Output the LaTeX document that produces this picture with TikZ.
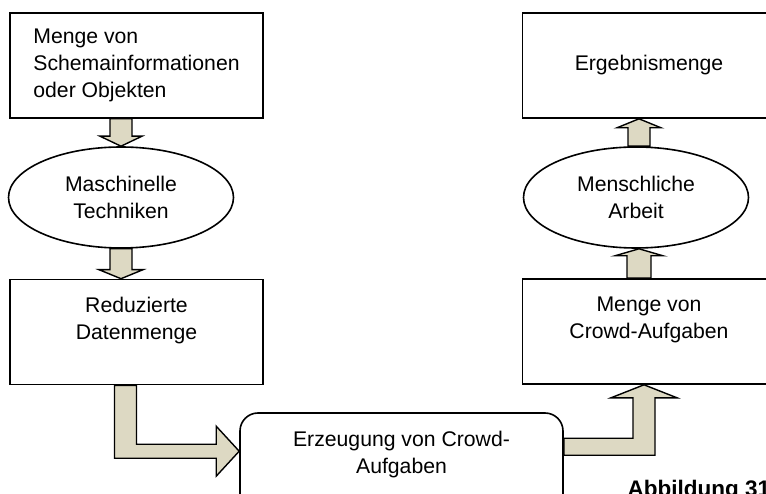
\documentclass[tikz,border=0pt]{standalone}
\usepackage{fontspec}
\setmainfont{Liberation Sans}
\usetikzlibrary{shapes.geometric,calc,backgrounds}
\definecolor{arrowfill}{RGB}{221,217,195}
\tikzset{
  textfont/.style={font=\fontsize{21.2pt}{27pt}\selectfont},
  stepbox/.style={draw, line width=1.6pt, fill=white, textfont, inner sep=0pt,
    minimum width=253pt, minimum height=105pt, align=center},
  taskbox/.style={stepbox, minimum width=323pt, rounded corners=18pt},
  workoval/.style={draw, ellipse, line width=1.6pt, fill=white, textfont, inner sep=0pt,
    minimum width=225pt, minimum height=101pt, align=center},
  blockarrow/.style={draw, fill=arrowfill, line width=1.4pt, line join=miter},
}
\begin{document}
\begin{tikzpicture}[x=1pt,y=-1pt]
\clip (0,0) rectangle (766,494);
\node[stepbox, align=left] (objekte) at (136.5,65.5) {Menge von\\Schemainformationen\\oder Objekten};
\node[workoval] (maschinell) at (121,197.5) {Maschinelle\\Techniken};
\node[stepbox] (reduziert) at (136.5,332) {Reduzierte\\Datenmenge\\\mbox{}};
\node[taskbox] (erzeugung) at (401.5,465.5) {Erzeugung von Crowd-\\Aufgaben\\\mbox{}};
\node[stepbox] (aufgaben) at (649,331.5) {Menge von\\Crowd-Aufgaben\\\mbox{}};
\node[workoval] (menschlich) at (636,197.5) {Menschliche\\Arbeit};
\node[stepbox] (ergebnis) at (649,65.5) {Ergebnismenge};
\node[anchor=base west, font=\fontsize{22.5pt}{27pt}\selectfont\bfseries] (caption) at (624,496) {Abbildung 31};

\coordinate (t1) at (maschinell.north);
\coordinate (t2) at (maschinell.north |- reduziert.north);
\coordinate (s3) at ($(reduziert.south)+(-11,0)$);
\coordinate (t3) at ($(erzeugung.north west)+(0,39)$);
\coordinate (s4) at ($(erzeugung.north east)+(0,26)$);
\coordinate (t4) at ($(aufgaben.south)+(-5,0)$);
\coordinate (t5) at ($(menschlich.south)+(3,0)$);
\coordinate (t6) at (t5 |- ergebnis.south);

\begin{pgfonlayer}{background}
\draw[blockarrow] ($(t1 |- objekte.south)+(-11,0)$) -- ($(t1)+(-11,-10)$) -- ($(t1)+(-21,-10)$) -- (t1)
  -- ($(t1)+(21,-10)$) -- ($(t1)+(11,-10)$) -- ($(t1 |- objekte.south)+(11,0)$) -- cycle;
\draw[blockarrow] ($(maschinell.south)+(-11,0)$) -- ($(t2)+(-11,-9)$) -- ($(t2)+(-22,-9)$) -- (t2)
  -- ($(t2)+(22,-9)$) -- ($(t2)+(11,-9)$) -- ($(maschinell.south)+(11,0)$) -- cycle;
\draw[blockarrow] ($(s3)+(-11,0)$) |- ($(t3)+(-23,7)$) -- ($(t3)+(-23,25)$) -- (t3)
  -- ($(t3)+(-23,-25)$) -- ($(t3)+(-23,-7)$) -| ($(s3)+(11,0)$) -- cycle;
\draw[blockarrow] (s4) -| ($(t4)+(-11,13)$) -- ($(t4)+(-33,13)$) -- (t4)
  -- ($(t4)+(33,13)$) -- ($(t4)+(11,13)$) |- ($(s4)+(0,17)$) -- cycle;
\draw[blockarrow] ($(t5 |- aufgaben.north)+(-12,0)$) -- ($(t5)+(-12,7)$) -- ($(t5)+(-24,7)$) -- (t5)
  -- ($(t5)+(24,7)$) -- ($(t5)+(12,7)$) -- ($(t5 |- aufgaben.north)+(12,0)$) -- cycle;
\draw[blockarrow] ($(t5 |- menschlich.north)+(-11,0)$) -- ($(t6)+(-11,9)$) -- ($(t6)+(-22,9)$) -- (t6)
  -- ($(t6)+(22,9)$) -- ($(t6)+(11,9)$) -- ($(t5 |- menschlich.north)+(11,0)$) -- cycle;
\end{pgfonlayer}
\end{tikzpicture}
\end{document}
